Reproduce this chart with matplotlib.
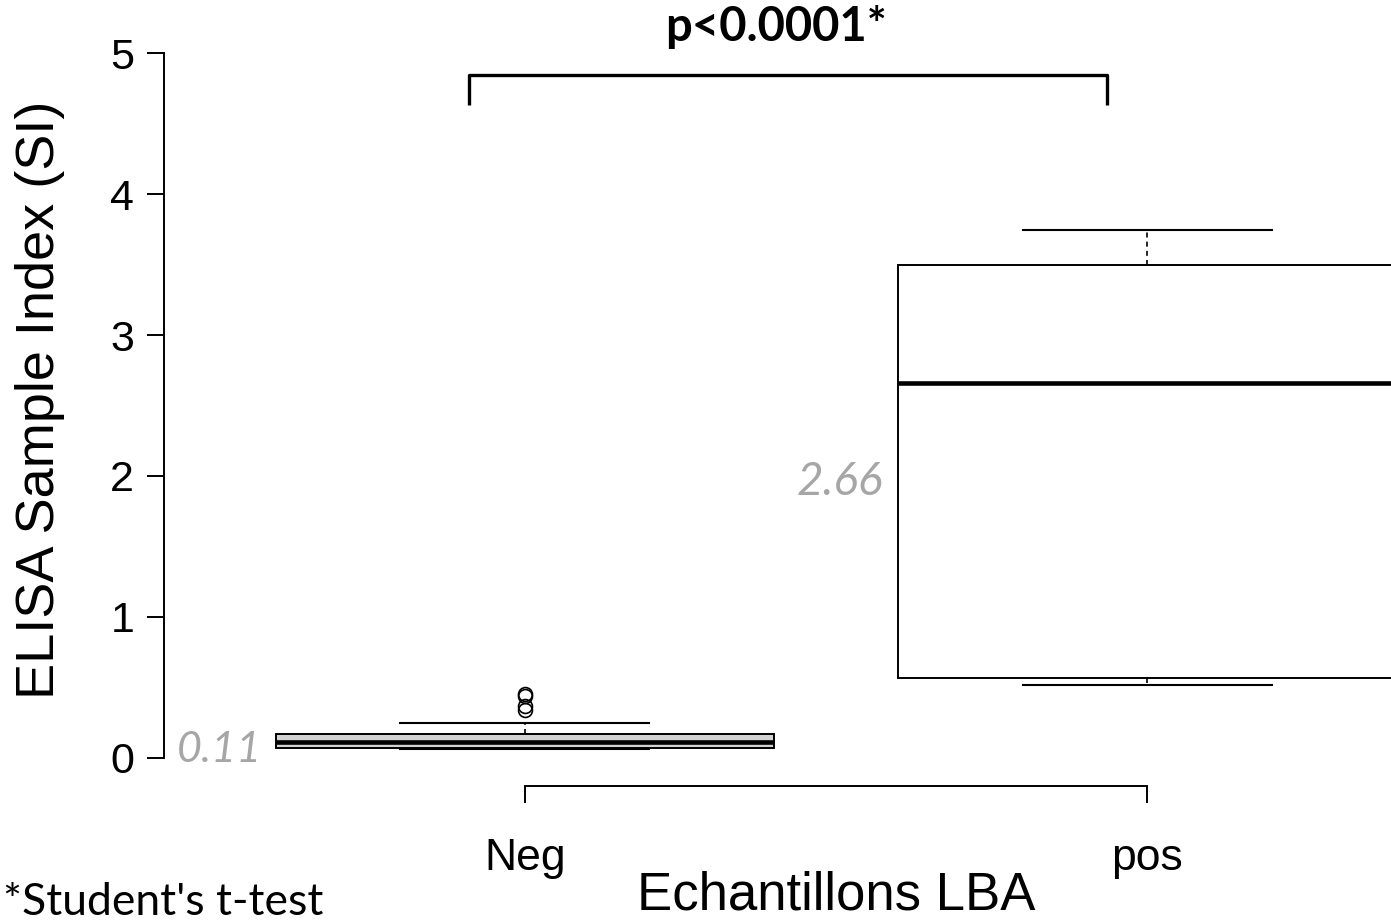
import matplotlib
matplotlib.use("Agg")
import matplotlib.pyplot as plt

# ---- data ----
categories = ["Neg", "pos"]
q1 = [0.07, 0.565]
medians = [0.11, 2.66]
q3 = [0.165, 3.50]
whisker_low = [0.06, 0.515]
whisker_high = [0.245, 3.745]
outliers = [[0.45, 0.44, 0.365, 0.335], []]
yticks = [0, 1, 2, 3, 4, 5]
p_text = "p<0.0001*"
test_note = "*Student's t-test"
ylabel = "ELISA Sample Index (SI)"
xlabel = "Echantillons LBA"
box_colors = ["#d3d3d3", "white"]

plt.rcParams["font.family"] = ["Liberation Sans", "DejaVu Sans"]

fig = plt.figure(figsize=(13.91, 9.23), dpi=100)
ax = fig.add_axes([164 / 1391, (923 - 785.7) / 923, 1344 / 1391, 760.4 / 923])

positions = list(range(1, len(categories) + 1))
stats = []
for i, c in enumerate(categories):
    stats.append(dict(label=c, q1=q1[i], med=medians[i], q3=q3[i],
                      whislo=whisker_low[i], whishi=whisker_high[i],
                      fliers=outliers[i]))

bp = ax.bxp(stats, positions=positions, widths=0.8, patch_artist=True,
            capwidths=0.4,
            boxprops=dict(edgecolor="black", linewidth=1.4),
            whiskerprops=dict(color="black", linewidth=1.2, linestyle=(0, (3, 2.5))),
            capprops=dict(color="black", linewidth=1.5),
            medianprops=dict(color="black", linewidth=3.3, solid_capstyle="butt"),
            flierprops=dict(marker="o", markerfacecolor="none", markeredgecolor="black",
                            markersize=10, markeredgewidth=1.2))
for patch, col in zip(bp["boxes"], box_colors):
    patch.set_facecolor(col)
for art in bp["boxes"] + bp["whiskers"] + bp["caps"] + bp["medians"] + bp["fliers"]:
    art.set_clip_on(False)

ax.set_xlim(0.42, 2.58)
ax.set_ylim(-0.2, 5.2)

for s in ["top", "right"]:
    ax.spines[s].set_visible(False)
ax.spines["left"].set_bounds(0, 5)
ax.spines["bottom"].set_bounds(1, 2)
ax.spines["left"].set_linewidth(1.4)
ax.spines["bottom"].set_linewidth(1.4)

ax.set_yticks(yticks)
ax.set_yticklabels([str(t) for t in yticks])
ax.set_xticks(positions)
ax.set_xticklabels(categories)
ax.tick_params(axis="y", length=12.5, width=1.4, labelsize=31, pad=9)
ax.tick_params(axis="x", length=12.5, width=1.4, labelsize=32, pad=25)

ax.set_ylabel(ylabel, fontsize=39)
ax.yaxis.label.set_va("center")
ax.yaxis.set_label_coords((40 - 164) / 1344, (785.7 - 400) / 760.4)
ax.set_xlabel(xlabel, fontsize=38, labelpad=-6)

# median value annotations
lab_font = ["Lato", "DejaVu Sans"]
ax.text(0.577, 0.055, f"{medians[0]:.2f}", ha="right", va="center", fontsize=31,
        style="italic", color="#a6a6a6", family=lab_font)
ax.text(1.576, 1.96, f"{medians[1]:.2f}", ha="right", va="center", fontsize=33,
        style="italic", color="#a6a6a6", family=lab_font)

# significance bracket
bx0, bx1, by_top, by_bot = 0.91, 1.936, 4.847, 4.634
ax.plot([bx0, bx0, bx1, bx1], [by_bot, by_top, by_top, by_bot], color="black",
        linewidth=2.4, solid_joinstyle="round", solid_capstyle="butt", clip_on=False)
ax.text(1.404, 5.19, p_text, ha="center", va="center", fontsize=34,
        fontweight="bold", family=lab_font)

fig.text(0.002, (923 - 915) / 923, test_note, ha="left", va="baseline", fontsize=32,
         family=lab_font)

fig.savefig("out.png", dpi=100)
